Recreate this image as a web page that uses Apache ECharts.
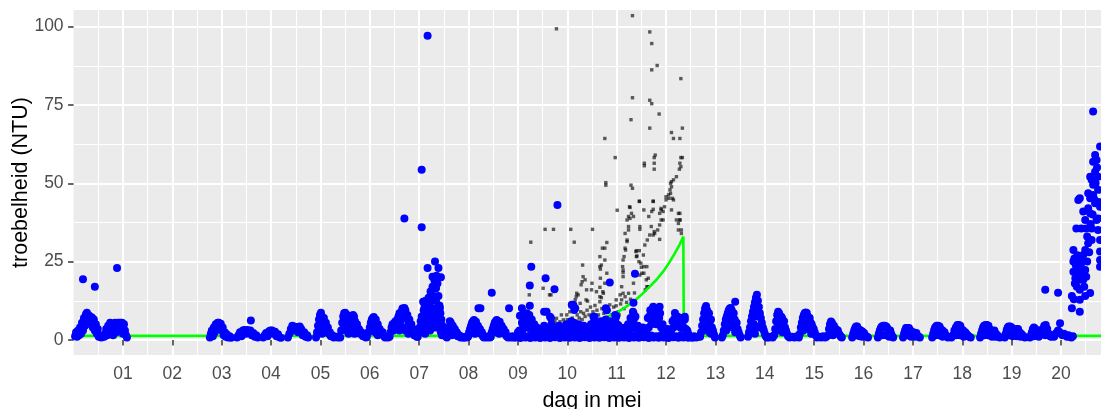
<!DOCTYPE html>
<html>
<head>
<meta charset="utf-8">
<script src="https://cdn.jsdelivr.net/npm/echarts@6/dist/echarts.min.js"></script>
<style>
  html, body { margin: 0; padding: 0; background: #fff; }
  #chart { width: 1101px; height: 409px; }
</style>
</head>
<body>
<div id="chart"></div>
<script>
// dag in mei (decimal day) , troebelheid (NTU)
var xTicks = [1, 2, 3, 4, 5, 6, 7, 8, 9, 10, 11, 12, 13, 14, 15, 16, 17, 18, 19, 20];
var xTickLabels = ['01', '02', '03', '04', '05', '06', '07', '08', '09', '10',
  '11', '12', '13', '14', '15', '16', '17', '18', '19', '20'];
var yTicks = [0, 25, 50, 75, 100];
var yMinorTicks = [12.5, 37.5, 62.5, 87.5];

// blauwe metingen, 30 april - 8 mei
var blueEarly = [
  [0.03,1.2],[0.05,2.5],[0.07,1.0],[0.09,3.0],[0.11,1.5],[0.13,4.0],[0.15,2.0],[0.17,5.5],[0.19,3.0],[0.21,7.0],[0.23,4.5],[0.25,8.2],[0.27,8.7],[0.29,6.0],[0.31,7.8],[0.33,7.5],[0.35,5.0],[0.37,7.2],[0.39,4.0],[0.41,6.5],[0.43,3.0],[0.45,5.0],[0.47,2.0],[0.49,3.5],[0.51,1.0],[0.53,1.5],[0.56,0.8],[0.59,1.0],[0.19,19.4],[0.43,17.0],
  [0.62,1.0],[0.64,2.0],[0.66,3.5],[0.68,1.5],[0.70,4.5],[0.72,2.5],[0.74,5.5],[0.76,3.5],[0.78,5.0],[0.80,1.5],[0.82,4.0],[0.84,5.5],[0.86,2.5],[0.88,5.0],[0.90,5.5],[0.92,3.5],[0.94,5.5],[0.96,4.5],[0.98,5.5],[1.00,2.0],[1.02,5.0],[1.04,3.0],[1.06,1.5],[1.08,0.8],[0.88,23.0],
  [2.76,0.8],[2.78,2.0],[2.80,3.0],[2.82,1.2],[2.84,4.0],[2.86,2.5],[2.88,5.0],[2.90,3.5],[2.92,5.5],[2.94,5.5],[2.96,4.5],[2.98,5.2],[3.00,3.0],[3.02,4.0],[3.04,1.5],[3.06,2.5],[3.08,1.0],[3.10,1.8],[3.13,0.8],[3.16,1.2],[3.19,0.7],
  [3.31,0.8],[3.34,1.5],[3.37,2.5],[3.40,1.2],[3.43,3.0],[3.46,3.2],[3.49,2.0],[3.52,3.2],[3.55,2.5],[3.58,3.0],[3.61,1.5],[3.64,2.2],[3.67,1.0],[3.70,1.5],[3.73,0.8],[3.59,6.2],
  [3.84,0.8],[3.87,1.5],[3.90,2.2],[3.93,1.2],[3.96,2.8],[3.99,3.0],[4.02,3.0],[4.05,2.0],[4.08,2.6],[4.11,1.2],[4.14,1.8],[4.17,0.9],[4.20,0.7],
  [4.34,0.8],[4.37,2.0],[4.40,3.5],[4.43,4.5],[4.46,3.0],[4.49,4.2],[4.52,4.0],[4.55,2.5],[4.58,4.3],[4.61,3.5],[4.64,1.5],[4.67,2.5],[4.70,1.0],[4.73,1.5],[4.75,0.8],
  [4.91,0.8],[4.93,2.5],[4.95,4.5],[4.97,6.5],[4.99,8.0],[5.01,8.7],[5.03,7.5],[5.05,6.0],[5.07,7.0],[5.09,4.5],[5.11,5.5],[5.13,3.0],[5.15,4.0],[5.17,2.0],[5.19,2.5],[5.21,1.2],[5.24,1.5],[5.27,0.8],[4.98,3.0],[5.03,2.0],[5.06,3.0],[5.00,5.0],[5.31,1.0],[5.35,0.8],[5.38,1.2],
  [5.40,0.8],[5.42,3.0],[5.44,5.5],[5.46,7.5],[5.48,8.5],[5.50,8.7],[5.52,7.0],[5.54,8.0],[5.56,5.5],[5.58,6.5],[5.60,4.0],[5.62,6.0],[5.64,7.5],[5.66,8.0],[5.68,7.5],[5.70,6.0],[5.72,4.5],[5.74,5.0],[5.76,3.0],[5.78,3.5],[5.80,2.0],[5.83,2.5],[5.86,1.2],[5.89,1.5],[5.92,0.8],[5.47,4.0],[5.52,3.0],[5.57,2.0],[5.65,3.5],[5.69,2.0],
  [5.94,1.0],[5.97,2.5],[6.00,4.0],[6.02,5.5],[6.04,6.5],[6.06,7.0],[6.08,7.3],[6.10,6.0],[6.12,6.5],[6.14,4.5],[6.16,5.0],[6.18,3.0],[6.20,3.5],[6.23,2.0],[6.26,2.5],[6.29,1.2],[6.31,0.8],[6.05,3.0],[6.11,2.5],[6.16,1.5],[6.34,1.0],[6.37,0.8],
  [6.40,1.0],[6.42,2.5],[6.44,4.0],[6.46,5.0],[6.48,3.0],[6.50,5.5],[6.52,6.0],[6.54,4.0],[6.56,6.5],[6.58,7.5],[6.60,8.5],[6.62,6.0],[6.64,9.0],[6.66,10.0],[6.68,8.0],[6.70,10.2],[6.72,9.5],[6.74,7.0],[6.76,8.0],[6.78,5.5],[6.80,6.5],[6.82,4.0],[6.84,5.0],[6.86,2.5],[6.88,3.5],[6.90,1.5],[6.92,2.0],[6.95,1.0],[6.60,3.0],[6.66,4.0],[6.72,3.0],[6.78,2.0],[6.70,38.8],
  [6.97,1.0],[6.99,2.5],[7.01,4.0],[7.03,6.0],[7.05,7.5],[7.07,5.0],[7.09,9.5],[7.11,10.5],[7.13,8.0],[7.15,12.0],[7.17,10.0],[7.19,13.5],[7.21,11.0],[7.23,15.5],[7.25,12.5],[7.27,17.0],[7.29,14.0],[7.31,19.0],[7.33,16.5],[7.35,20.5],[7.37,18.0],[7.39,14.0],[7.41,11.0],[7.43,8.5],[7.45,6.5],[7.47,4.5],[7.49,3.0],[7.51,2.0],[7.54,1.2],[7.56,0.8],
  [7.05,3.0],[7.10,5.0],[7.12,2.0],[7.15,6.5],[7.18,4.0],[7.20,7.5],[7.22,3.0],[7.24,9.0],[7.26,5.5],[7.28,7.0],[7.30,10.0],[7.32,4.0],[7.34,12.5],[7.36,8.0],[7.38,10.5],[7.40,6.0],[7.42,3.5],[7.44,2.5],[7.46,1.5],
  [7.17,23.0],[7.32,25.0],[7.39,23.0],[7.44,20.0],[7.27,20.2],[7.34,16.5],[7.08,12.2],[7.42,10.2],[7.13,12.5],[7.05,54.3],[7.05,36.0],[7.17,97.1],
  [7.58,2.0],[7.60,4.0],[7.62,6.0],[7.64,5.5],[7.66,4.0],[7.68,4.5],[7.70,3.0],[7.72,3.5],[7.74,2.0],[7.76,2.5],[7.78,1.2],[7.81,1.5],[7.84,0.8],[7.87,1.0],[7.62,2.5],[7.66,1.5],[7.90,0.7],[7.93,1.0],[7.96,0.8]
];

// blauwe metingen, 8 - 12 mei
var blueMid = [
  [7.99,1.0],[8.01,2.5],[8.03,3.5],[8.05,4.5],[8.07,5.5],[8.09,6.0],[8.11,6.4],[8.13,5.0],[8.15,5.8],[8.17,4.0],[8.19,4.5],[8.21,3.0],[8.23,3.5],[8.25,2.0],[8.27,2.5],[8.29,1.2],[8.31,0.8],[8.20,10.1],[8.24,10.1],[8.08,2.5],[8.13,2.0],
  [8.34,1.0],[8.37,0.8],[8.40,1.2],[8.43,0.8],
  [8.45,1.0],[8.47,2.5],[8.49,3.5],[8.51,4.5],[8.53,5.5],[8.55,6.0],[8.57,6.4],[8.59,6.0],[8.61,5.0],[8.63,5.8],[8.65,4.0],[8.67,4.5],[8.69,3.0],[8.71,3.5],[8.73,2.0],[8.75,2.5],[8.77,1.2],[8.80,0.8],[8.47,15.1],[8.82,10.1],[8.54,2.5],[8.62,2.0],
  [8.83,1.0],[8.86,0.8],[8.89,1.2],[8.92,0.8],
  [8.95,0.8],[9.00,1.2],[9.05,0.6],[9.10,1.5],[9.15,0.8],[9.20,1.2],[9.25,0.6],[9.30,1.4],[9.35,0.8],[9.40,1.0],[9.45,0.6],[9.50,1.3],[9.55,0.8],[9.60,1.1],[9.65,0.6],[9.70,1.5],[9.75,0.9],[9.80,1.2],[9.85,0.6],[9.90,1.4],[9.95,0.8],[10.00,1.1],[10.05,0.7],[10.10,1.5],[10.15,0.8],[10.20,1.2],[10.25,0.6],[10.30,1.3],[10.35,0.9],[10.40,1.1],[10.45,0.6],[10.50,1.4],[10.55,0.8],[10.60,1.2],[10.65,0.7],[10.70,1.5],[10.75,0.9],[10.80,1.1],[10.85,0.6],[10.90,1.3],[10.95,0.8],[11.00,1.2],[11.05,0.7],[11.10,1.4],[11.15,0.8],[11.20,1.0],[11.25,0.6],[11.30,1.5],[11.35,0.8],[11.40,1.2],[11.45,0.7],[11.50,1.3],[11.55,0.9],[11.60,1.1],[11.65,0.6],[11.70,1.4],[11.75,0.8],[11.80,1.2],[11.85,0.7],[11.90,1.5],[11.95,0.8],[12.00,1.1],[12.05,0.6],[12.10,1.3],[12.15,0.9],[12.20,1.2],[12.25,0.7],[12.30,1.4],[12.35,0.8],[12.40,1.1],[12.45,0.7],
  [9.00,2.5],[9.05,3.0],[9.10,3.5],[9.15,4.0],[9.20,4.5],[9.25,3.5],[9.30,3.0],[9.35,2.5],[9.40,2.2],[9.45,2.5],[9.50,2.8],[9.55,2.2],[9.60,2.6],[9.65,3.0],[9.70,2.4],[9.75,2.2],[9.80,2.8],[9.85,2.4],[9.90,2.2],[9.95,2.8],[10.00,3.0],[10.05,3.2],[10.10,3.5],[10.15,3.0],[10.20,2.8],[10.25,3.0],[10.30,2.5],[10.35,2.4],[10.40,2.6],[10.45,2.8],[10.50,3.0],[10.55,3.2],[10.60,2.8],[10.65,3.0],[10.70,3.5],[10.75,3.2],[10.80,3.8],[10.85,3.0],[10.90,3.5],[10.95,3.0],[11.00,3.2],[11.05,2.8],[11.10,2.5],[11.15,2.4],[11.20,2.6],[11.25,3.0],[11.30,4.0],[11.35,5.0],[11.40,3.5],[11.45,2.5],[11.50,2.2],[11.55,2.4],[11.60,3.0],[11.65,4.0],[11.70,5.0],[11.75,5.5],[11.80,5.0],[11.85,5.5],[11.90,4.0],[11.95,2.8],[12.00,2.2],[12.05,2.4],[12.10,2.8],[12.15,4.0],[12.20,5.0],[12.25,4.5],[12.30,3.8],[12.35,4.2],[12.40,3.5],[12.45,2.0],
  [9.03,3.0],[9.08,5.5],[9.13,7.5],[9.18,8.5],[9.23,8.0],[9.28,6.5],[9.33,5.0],[9.38,4.0],[9.43,3.0],[9.48,3.5],[9.53,4.5],[9.58,3.5],[9.63,4.0],[9.68,5.0],[9.73,4.0],[9.78,3.5],[9.83,4.5],[9.88,3.0],[9.93,4.0],[9.98,5.0],[10.03,4.5],[10.08,6.0],[10.13,5.5],[10.18,4.5],[10.23,5.0],[10.28,4.0],[10.33,4.5],[10.38,3.5],[10.43,4.0],[10.48,5.0],[10.53,5.5],[10.58,4.5],[10.63,5.0],[10.68,6.0],[10.73,5.0],[10.78,6.5],[10.83,5.5],[10.88,6.0],[10.93,5.0],[10.98,5.5],[11.03,4.5],[11.08,4.0],[11.13,3.5],[11.18,4.0],[11.23,5.0],[11.28,7.0],[11.33,9.0],[11.38,7.5],[11.43,4.5],[11.48,3.5],[11.53,4.0],[11.58,3.5],[11.63,7.0],[11.68,9.5],[11.73,10.0],[11.78,9.0],[11.83,10.0],[11.88,8.5],[11.93,5.0],[11.98,3.0],[12.03,3.5],[12.08,3.0],[12.13,6.0],[12.18,8.6],[12.23,7.5],[12.28,6.0],[12.33,7.0],[12.38,6.5],[12.43,3.0],
  [9.15,6.0],[9.20,6.5],[11.31,6.5],[11.36,7.0],[11.66,7.5],[11.71,8.0],[11.76,7.0],[11.81,8.0],[11.86,7.0],[12.17,6.8],[12.21,6.0],[12.32,5.5],
  [9.08,10.1],[9.24,10.9],[9.11,8.0],[9.24,17.4],[9.27,23.4],[9.04,7.7],[9.53,9.0],[9.56,19.7],[9.58,9.0],[9.65,7.4],[9.67,6.9],[9.74,16.2],[9.80,43.1],[10.09,11.2],[10.12,11.2],[10.14,9.6],[10.16,10.1],[10.53,7.4],[10.55,7.4],[10.78,10.1],[10.80,9.5],[10.86,18.3],[10.97,8.0],[10.99,7.4],[11.03,4.8],[11.34,11.9],[11.34,8.5],[11.37,21.1],[11.74,10.6],[11.87,10.6],[12.38,7.4],
  [12.49,1.0],[12.53,0.7],[12.57,1.2],[12.61,0.8],[12.65,1.0]
];

// blauwe metingen, 12 - 20 mei
var blueLate = [
  [12.69,1.0],[12.71,2.5],[12.73,4.5],[12.75,6.5],[12.77,8.5],[12.79,10.0],[12.81,10.8],[12.83,9.5],[12.85,8.0],[12.87,8.5],[12.89,6.0],[12.91,6.5],[12.93,4.0],[12.95,3.0],[12.97,1.8],[12.99,0.8],[12.76,3.0],[12.80,5.5],[12.84,4.0],[12.88,2.5],[12.91,2.0],
  [13.13,0.8],[13.15,1.5],[13.17,3.0],[13.19,5.0],[13.21,6.5],[13.23,7.5],[13.25,8.5],[13.27,9.5],[13.29,10.0],[13.31,10.2],[13.33,9.5],[13.35,8.0],[13.37,8.5],[13.39,6.5],[13.41,5.0],[13.43,5.5],[13.45,3.5],[13.47,2.5],[13.49,1.5],[13.51,0.8],[13.40,12.2],[13.22,3.0],[13.27,5.0],[13.31,6.0],[13.35,4.0],[13.40,2.5],
  [13.66,1.0],[13.68,2.5],[13.70,4.0],[13.72,6.0],[13.74,7.5],[13.76,9.0],[13.78,10.5],[13.80,12.0],[13.82,13.5],[13.84,14.4],[13.86,12.5],[13.88,10.5],[13.90,8.5],[13.92,7.0],[13.94,5.5],[13.96,4.0],[13.98,3.0],[14.00,2.0],[14.02,1.2],[14.04,0.8],[13.74,3.0],[13.78,5.0],[13.82,7.5],[13.84,4.0],[13.86,9.0],[13.90,4.0],[13.80,2.0],
  [14.08,0.8],[14.12,1.0],[14.16,0.8],
  [14.19,1.5],[14.21,3.5],[14.23,6.0],[14.25,8.0],[14.27,9.0],[14.29,8.5],[14.31,7.0],[14.33,7.5],[14.35,7.0],[14.37,5.5],[14.39,6.0],[14.41,4.0],[14.43,3.0],[14.45,2.0],[14.47,1.2],[14.50,0.8],[14.25,3.0],[14.30,4.0],[14.36,2.5],
  [14.55,1.0],[14.60,0.8],[14.65,1.2],[14.69,0.8],
  [14.71,2.0],[14.73,4.0],[14.75,5.5],[14.77,7.0],[14.79,8.0],[14.81,8.6],[14.83,8.8],[14.85,8.6],[14.87,7.5],[14.89,6.5],[14.91,7.0],[14.93,5.5],[14.95,5.0],[14.97,4.0],[14.99,3.5],[15.01,2.5],[15.03,1.5],[15.06,0.8],[14.78,3.0],[14.83,4.5],[14.88,3.5],[14.94,2.0],
  [15.10,1.0],[15.14,0.8],[15.18,1.2],[15.22,0.8],[15.25,1.0],
  [15.28,1.5],[15.30,3.5],[15.32,5.0],[15.34,5.9],[15.36,5.5],[15.38,4.0],[15.40,4.5],[15.42,3.0],[15.44,3.5],[15.46,2.5],[15.48,3.0],[15.50,2.0],[15.52,1.5],[15.54,1.0],[15.56,0.8],[15.33,2.5],[15.38,1.5],
  [15.77,0.8],[15.79,2.0],[15.81,3.0],[15.83,3.8],[15.85,4.3],[15.87,4.3],[15.89,3.5],[15.91,3.0],[15.93,3.2],[15.95,2.5],[15.97,2.8],[15.99,2.0],[16.01,2.2],[16.03,1.5],[16.05,1.2],[16.07,1.0],[16.09,0.8],[15.86,1.5],[15.92,1.2],[15.97,1.0],
  [16.29,0.8],[16.31,2.0],[16.33,3.0],[16.35,3.8],[16.37,4.3],[16.40,4.5],[16.43,4.5],[16.46,4.3],[16.48,3.8],[16.50,3.0],[16.52,2.5],[16.54,3.0],[16.56,2.0],[16.58,1.2],[16.60,0.8],[16.38,1.5],[16.45,1.5],[16.52,1.0],
  [16.80,0.8],[16.82,2.0],[16.84,3.0],[16.86,3.8],[16.88,3.8],[16.90,3.5],[16.92,3.8],[16.95,3.0],[16.98,2.0],[17.01,2.5],[17.04,1.8],[17.07,2.2],[17.10,1.2],[17.12,1.0],[17.14,0.8],[16.88,1.5],[16.96,1.0],[17.04,1.0],
  [17.39,0.8],[17.41,2.0],[17.43,3.2],[17.45,4.0],[17.48,4.5],[17.51,4.5],[17.54,4.3],[17.56,3.5],[17.58,2.5],[17.60,3.0],[17.62,2.0],[17.64,2.5],[17.66,1.5],[17.68,1.2],[17.71,0.8],[17.46,1.5],[17.53,1.5],[17.60,1.0],
  [17.78,0.8],[17.81,1.5],[17.84,3.0],[17.87,4.0],[17.90,4.8],[17.93,4.8],[17.96,4.5],[17.98,3.5],[18.00,2.5],[18.02,3.0],[18.04,2.0],[18.06,2.5],[18.08,2.0],[18.11,1.5],[18.14,1.0],[18.17,0.8],[17.88,1.5],[17.95,1.5],[18.03,1.0],
  [18.36,0.8],[18.38,2.0],[18.40,3.0],[18.42,4.0],[18.44,4.5],[18.47,4.8],[18.50,4.8],[18.53,4.5],[18.55,3.5],[18.57,2.5],[18.59,3.0],[18.62,2.5],[18.65,3.0],[18.68,2.0],[18.71,1.5],[18.74,1.0],[18.76,0.8],[18.45,1.5],[18.52,1.5],[18.60,1.0],[18.67,1.0],
  [18.86,0.8],[18.88,2.0],[18.90,3.2],[18.92,4.0],[18.94,4.3],[18.97,4.3],[19.00,4.0],[19.03,3.0],[19.05,2.5],[19.07,3.0],[19.10,3.5],[19.13,3.5],[19.16,2.5],[19.19,2.0],[19.22,1.5],[19.25,1.0],[19.27,0.8],[18.95,1.5],[19.02,1.2],[19.10,1.2],[19.18,1.0],
  [19.37,0.8],[19.39,1.5],[19.41,2.5],[19.43,3.5],[19.45,4.0],[19.48,3.5],[19.51,2.5],[19.54,3.0],[19.57,2.0],[19.60,2.5],[19.63,3.5],[19.66,4.5],[19.69,4.8],[19.72,3.5],[19.75,2.0],[19.78,1.2],[19.68,16.0],[19.45,1.2],[19.55,1.0],[19.68,1.5],
  [19.80,1.0],[19.83,1.5],[19.86,1.0],[19.89,2.0],[19.92,2.5],[19.94,3.0],[19.97,2.5],[20.00,2.0],[20.03,1.5],[20.06,2.0],[20.09,1.5],[20.12,1.0],[20.15,1.5],[20.18,1.0],[20.21,0.8],[20.24,1.2],[19.94,15.1],[19.98,5.3],
  [20.65,72.9],[20.69,59.0],[20.72,57.4],[20.65,56.9],[20.59,52.1],[20.62,51.1],[20.65,49.5],[20.79,61.7],[20.38,45.2],[20.35,44.7],[20.59,45.2],[20.65,46.3],[20.55,42.0],[20.69,43.6],[20.59,40.4],[20.49,38.3],[20.72,38.3],
  [20.31,35.6],[20.41,35.6],[20.51,35.6],[20.62,35.6],[20.75,35.1],[20.62,31.9],[20.55,30.9],[20.49,28.7],[20.25,28.7],[20.45,27.1],[20.41,25.5],[20.25,25.0],[20.31,23.4],[20.41,22.9],[20.25,21.8],[20.35,21.3],[20.49,22.3],[20.51,20.2],[20.29,19.7],[20.38,19.2],[20.45,19.2],
  [20.79,25.5],[20.79,28.2],[20.79,31.9],[20.79,23.4],[20.75,38.8],[20.22,14.0],[20.22,10.1],[20.38,12.8],[20.38,16.0],[20.38,9.0],[20.45,41.0],[20.55,46.8],[20.69,53.7],[20.75,47.9],[20.75,52.1],[20.79,42.5],
  [20.27,26.0],[20.30,24.0],[20.33,27.0],[20.36,25.0],[20.40,24.0],[20.43,21.0],[20.28,18.0],[20.32,17.0],[20.26,13.0],[20.47,17.0],[20.49,14.0],[20.59,15.0],[20.53,25.0],[20.57,28.0],[20.60,37.0],[20.64,40.0],[20.67,45.0],[20.70,50.0],[20.73,55.0],[20.77,44.0],[20.53,33.0]
];

// zwarte punten (tweede meetreeks)
var blackPoints = [
  [11.32,103.5],[9.78,99.3],[11.67,98.3],[11.71,94.6],[11.82,87.6],[11.71,86.2],[12.30,83.4],[11.32,77.3],[11.67,76.5],[11.71,75.4],[11.86,72.1],[11.29,70.3],[11.67,67.6],[12.33,67.6],[12.11,66.2],[12.15,64.3],[12.28,64.3],[10.76,64.3],[10.97,58.2],[11.78,59.0],[11.76,58.2],[12.30,58.2],[12.33,58.2],[11.56,56.4],[11.56,55.6],[11.76,56.4],[11.76,54.5],[12.28,56.4],[12.30,55.3],[12.27,54.5],[12.21,52.1],[12.15,51.1],[12.09,50.0],[12.11,48.9],[12.08,47.9],[12.09,46.8],[12.05,46.3],[12.13,45.2],[12.06,45.2],[10.78,50.2],[10.78,49.4],[11.29,49.4],[11.32,48.4],
  [11.01,41.4],[11.27,42.3],[11.34,39.4],[11.46,44.3],[11.55,41.5],[11.65,39.4],[11.74,44.3],[11.74,41.7],[11.67,33.5],[11.47,35.3],[11.57,30.3],[11.54,27.1],[11.46,28.5],[11.40,26.6],[11.49,24.5],[11.51,21.3],[11.61,23.4],[11.64,19.7],[11.64,17.0],[11.34,18.1],[11.24,35.1],[11.21,31.9],[11.17,29.3],[11.15,26.6],[11.12,23.4],[11.13,20.2],[11.10,17.0],[11.07,14.4],[11.21,38.3],[11.24,39.4],
  [10.80,31.1],[10.76,29.3],[10.71,29.3],[10.67,22.6],[10.67,19.7],[10.73,14.9],[10.66,16.8],[10.69,13.5],[10.50,18.1],[10.31,23.9],[10.32,20.2],[10.36,19.2],[10.28,17.6],[10.22,14.4],[10.18,13.8],[10.12,11.7],[10.05,9.0],[9.99,8.0],[9.92,6.4],[9.85,5.8],[9.75,5.8],[9.68,4.8],[9.58,3.7],[9.51,3.2],[9.45,3.2],
  [9.26,31.2],[9.55,35.3],[9.72,35.3],[10.07,35.3],[10.51,35.3],[10.14,31.2],[9.51,16.5],[9.67,14.4],[10.79,9.0],[10.86,11.2],[10.99,10.9],[11.03,9.0],[10.76,25.5],[10.66,23.4],[10.49,16.0],[10.59,15.4],[10.38,12.8],[10.66,12.2],[11.13,14.9],[11.47,20.7],[11.55,23.4],[11.39,28.2],
  [11.90,41.5],[11.87,40.4],[11.97,42.5],[12.00,45.7],[12.11,50.5],[12.15,44.7],[12.11,41.5],[12.25,40.4],[12.28,38.3],[12.31,35.1],[12.25,37.2],[11.94,38.3],[11.83,35.1],[11.87,32.1],[11.77,34.0],[11.70,36.2],[11.62,31.9],[11.13,21.5],[10.30,18.6],[10.19,14.9],[10.16,12.8],[10.26,11.7],[10.06,10.6],[9.88,8.0],[9.78,6.9],[9.64,14.4],[9.23,14.4],
  [10.41,12.4],[10.39,16.0],[10.69,23.9],[10.66,26.6],[10.66,13.8],[10.72,15.4],[10.76,18.1],[10.80,10.6],[10.99,12.8],[11.05,8.0],[10.96,6.9],[11.13,22.3],[11.13,25.5],[11.18,28.7],[11.21,31.4],[11.17,34.0],[11.24,36.2],[11.27,38.8],[11.30,40.4],[11.26,42.5],[11.40,28.5],[11.41,26.8],[11.45,25.0],[11.50,23.2],[11.55,21.3],[11.60,19.2],[11.58,16.0],[11.24,14.9],[11.17,13.8],[11.10,12.8],
  [11.47,36.2],[11.46,44.2],[11.71,41.0],[11.74,44.2],[11.90,42.0],[11.94,41.0],[12.00,44.7],[11.90,38.3],[11.87,36.7],[12.21,38.3],[12.28,38.3],[12.25,35.1],[12.31,34.0],[12.28,40.4],[11.76,34.6],[11.74,33.5],[11.61,17.0],[10.80,21.3],
  [9.55,2.5],[9.62,3.0],[9.70,4.0],[9.72,2.8],[9.80,4.5],[9.83,3.2],[9.90,5.0],[9.95,4.0],[10.00,6.5],[10.02,5.0],[10.05,4.2],[10.10,7.0],[10.13,5.5],[10.18,6.0],[10.20,8.0],[10.24,7.0],[10.27,9.0],[10.30,6.5],[10.33,8.5],[10.36,7.5],[10.40,9.5],[10.44,8.0],[10.47,10.5],[10.52,9.0],[10.56,11.0],[10.60,9.5],[10.63,8.0],[10.70,10.0],[10.74,8.5],[10.84,9.5],[10.90,8.0],[10.94,10.5],[11.08,11.5],[11.15,10.0],[11.20,12.0],[11.28,13.0],[11.36,15.0],[9.98,2.5],[10.08,3.0],[10.22,4.0],[9.88,2.0]
];

// groene referentielijn
var greenLine = [
  [0.03,1.3],[10.42,1.3],[10.43,5.1],[10.60,6.0],[10.73,6.9],[10.88,7.9],[11.03,9.0],[11.18,10.5],[11.34,12.2],[11.50,14.4],[11.67,17.0],[11.81,19.3],[11.94,21.8],[12.06,24.6],[12.18,27.7],[12.27,30.3],[12.35,33.0],[12.36,1.3],[20.95,1.3]
];

var font = '"Liberation Sans", Arial, sans-serif';
var chart = echarts.init(document.getElementById('chart'));

var option = {
  animation: false,
  grid: {
    left: 73.6, right: -9.4, top: 10, bottom: 54,
    outerBoundsMode: 'none', containLabel: false,
    show: true, backgroundColor: '#EBEBEB', borderWidth: 0
  },
  xAxis: {
    type: 'value', min: 0, max: 21, interval: 1,
    name: 'dag in mei', nameLocation: 'middle', nameGap: 35, nameMoveOverlap: false,
    nameTextStyle: { color: '#000', fontSize: 21.5, fontFamily: font },
    axisLine: { show: false },
    axisTick: { show: true, length: 5.5, customValues: xTicks, lineStyle: { color: '#333', width: 1.5 } },
    axisLabel: {
      customValues: xTicks, margin: 10, color: '#4D4D4D', fontSize: 17.5, fontFamily: font,
      formatter: function (v) { return xTickLabels[xTicks.indexOf(v)] || ''; }
    },
    splitLine: { show: true, lineStyle: { color: '#fff', width: 2.1 } },
    minorTick: { show: false, splitNumber: 2 },
    minorSplitLine: { show: true, lineStyle: { color: '#fff', width: 1.07 } }
  },
  yAxis: [{
    type: 'value', min: -4.8, max: 105.3,
    name: 'troebelheid (NTU)', nameLocation: 'middle', nameGap: 42, nameMoveOverlap: false,
    nameTextStyle: { color: '#000', fontSize: 21.5, fontFamily: font },
    axisLine: { show: false },
    axisTick: { show: true, length: 5.5, customValues: yTicks, lineStyle: { color: '#333', width: 1.5 } },
    axisLabel: { customValues: yTicks, margin: 10, color: '#4D4D4D', fontSize: 17.5, fontFamily: font },
    splitLine: { show: true, lineStyle: { color: '#fff', width: 2.1 } }
  }, {
    type: 'value', min: -4.8, max: 105.3, position: 'left',
    axisLine: { show: false },
    axisTick: { show: false, customValues: yMinorTicks },
    axisLabel: { show: false },
    splitLine: { show: true, lineStyle: { color: '#fff', width: 1.07 } }
  }],
  series: [
    {
      name: 'zwart', type: 'scatter', symbol: 'rect', symbolSize: 3.4, z: 2,
      itemStyle: { color: 'rgba(0,0,0,0.78)' },
      data: blackPoints
    },
    {
      name: 'lijn', type: 'line', symbol: 'none', z: 3,
      lineStyle: { color: '#00FF00', width: 2.6 },
      data: greenLine
    },
    {
      name: 'blauw', type: 'scatter', symbolSize: 8, z: 4,
      itemStyle: { color: '#0000FF', opacity: 1 },
      data: blueEarly.concat(blueMid, blueLate)
    }
  ]
};
chart.setOption(option);
</script>
</body>
</html>
